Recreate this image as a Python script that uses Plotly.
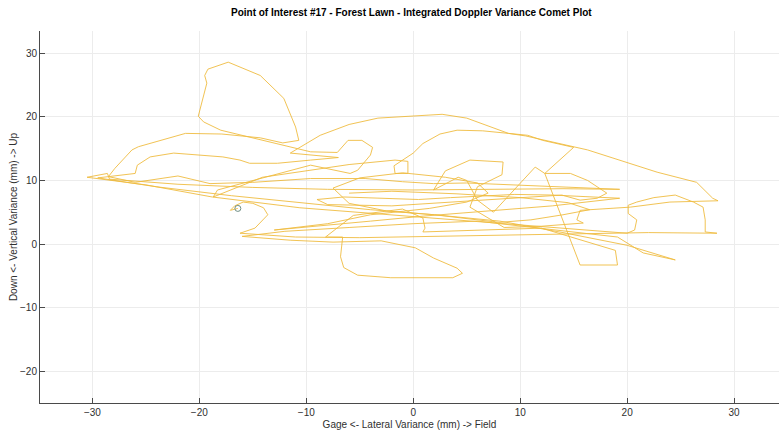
import plotly.graph_objects as go

# Integrated Doppler variance track (mm), in sampling order
lateral = [
    -16.4, -17.1, -16.7, -15.9, -15.0, -14.0, -13.6, -14.8, -16.2,
    -11.0, -5.0, 1.0, 8.0, 15.0, 22.0, 28.4,
    27.3, 27.3, 27.1, 26.2, 24.5, 22.5, 20.9, 20.1, 20.1, 20.9, 20.7, 20.0,
    14.0, 8.0, 2.0, -4.0, -10.6, -18.8, -25.0, -30.5,
    -28.6, -28.4, -22.0, -15.0, -8.0, 0.0, 8.0, 14.0, 19.3,
    15.0, 10.0, 5.0, 1.9, -1.0, -4.5, -9.6, -15.0, -19.0, -22.0, -26.0, -28.5,
    -27.9, -26.3, -25.7, -21.3, -17.9, -14.3, -12.2, -10.7,
    -11.0, -12.1, -14.3, -17.3, -19.2, -19.5, -19.3, -20.1, -19.6, -18.0, -14.3, -12.4, -9.6,
    -7.1, -6.1, -4.8, -3.8, -4.0, -5.2, -5.9, -8.0, -9.6, -18.3, -18.7,
    -14.1, -10.0, -6.0, -1.7, -0.5, -0.5, -1.7, -1.8, 0.0, 0.9, 2.5, 4.1, 6.5, 8.9, 10.5,
    16.3, 22.8, 26.5, 28.0, 28.5, 24.0, 20.3, 15.6, 15.3, 15.9, 12.0, 8.5, 5.3,
    6.0, 8.3, 8.4, 5.3, 3.0, 1.9, 4.2, 5.0, 6.0, 7.5, 11.4, 12.3,
    15.6, 19.1, 18.9, 12.0, 6.0, 0.9, 1.1, 0.9, -1.0, -5.6, -8.2,
    -6.6, -6.8, -6.5, -5.2, -2.1, 3.7, 4.6, 4.1, 1.9, 0.2, -3.0, -7.5, -11.5, -16.0,
    -12.0, -6.0, 0.0, 6.0, 12.0, 19.1, 21.5, 24.5,
    20.0, 14.0, 8.1, 2.0, -4.0, -10.0, -17.0, -24.0, -29.5,
    -26.0, -25.8, -24.6, -22.4, -17.8, -16.2, -15.3, -12.7, -9.6, -7.0,
    -11.5, -8.7, -6.0, -3.3, 2.7, 5.0, 8.9, 10.7, 12.1, 15.0,
    12.3, 14.7, 16.3, 18.1, 17.2, 15.6, 13.9, 10.0, 4.0, -2.0, -8.0,
    -9.0, -6.5, -3.0, 0.5, 3.5, 6.5, 9.5, 13.0, 19.3,
    13.0, 7.0, 1.0, -4.0, -9.0, -13.0,
    -8.0, -4.0, 1.5, 5.0, 7.0, 6.0, 3.0, -1.0, -5.0, -7.5, -6.0, -2.5, 2.0, 5.5,
    8.0, 11.0, 14.0, 16.5, 14.5, 10.0, 4.0, -2.0, -6.0,
]
vertical = [
    5.6, 5.3, 6.0, 6.6, 6.4, 5.7, 4.6, 2.5, 1.7,
    1.1, 1.0, 1.2, 1.4, 1.6, 1.8, 1.7,
    1.9, 3.8, 5.8, 6.6, 7.7, 7.3, 6.6, 6.1, 4.8, 3.8, 2.2, 1.7,
    2.5, 3.2, 4.0, 4.8, 5.7, 7.4, 9.3, 10.5,
    11.1, 10.2, 9.4, 8.9, 8.6, 8.5, 8.6, 8.7, 8.6,
    8.9, 9.3, 9.6, 9.5, 9.8, 10.3, 10.3, 9.7, 9.5, 10.7, 9.7, 10.6,
    11.9, 14.8, 15.3, 17.4, 17.3, 16.7, 15.9, 16.3,
    18.4, 22.9, 26.5, 28.6, 27.5, 26.5, 25.3, 20.1, 19.2, 17.9, 16.4, 15.6, 14.5,
    14.4, 16.3, 16.3, 15.2, 14.0, 11.6, 11.1, 11.8, 12.4, 8.5, 7.4,
    10.5, 11.5, 12.5, 13.2, 13.0, 11.1, 11.1, 12.3, 14.3, 15.8, 17.3, 17.9, 17.8, 17.4, 17.0,
    14.8, 11.3, 9.7, 7.2, 6.8, 6.6, 5.8, 5.3, 3.8, 3.3, 2.8, 2.6, 5.8,
    9.0, 10.9, 12.9, 13.2, 11.5, 8.5, 10.5, 10.0, 6.9, 5.0, 12.1, 11.1,
    -3.3, -3.3, -1.0, 2.5, 2.2, 1.9, 2.5, 4.1, 5.5, 4.5, 1.1,
    1.1, -2.0, -3.7, -4.9, -5.3, -5.3, -4.6, -3.8, -2.2, -0.6, 0.5, 0.3, 0.6, 1.2,
    2.0, 2.6, 3.2, 3.6, 2.5, 1.1, -1.4, -2.5,
    -0.2, 1.8, 3.6, 4.6, 5.4, 6.4, 7.6, 9.0, 10.4,
    11.1, 12.4, 13.7, 14.3, 13.7, 13.2, 12.7, 12.7, 13.2, 13.6,
    14.3, 17.1, 18.8, 19.8, 20.4, 19.8, 17.4, 17.1, 16.3, 15.2,
    11.1, 11.1, 10.0, 8.0, 7.2, 6.9, 7.7, 7.3, 6.6, 6.0, 6.2,
    7.0, 7.4, 7.2, 7.0, 7.3, 7.6, 7.8, 7.7, 7.2,
    6.0, 5.2, 4.4, 3.6, 2.8, 2.2,
    3.2, 4.6, 5.6, 6.6, 8.0, 9.6, 10.5, 11.2, 10.4, 8.8, 6.4, 5.2, 4.6, 3.9,
    3.4, 3.8, 4.6, 5.4, 6.5, 7.3, 7.9, 8.3, 8.0,
]

x_ticks = [-30, -20, -10, 0, 10, 20, 30]
y_ticks = [-20, -10, 0, 10, 20, 30]

axis_font = dict(family="Liberation Sans, Arial, sans-serif", size=10, color="#303030")

fig = go.Figure()
fig.add_trace(go.Scatter(
    x=lateral, y=vertical, mode="lines",
    line=dict(color="#EDB120", width=0.9),
    opacity=0.85,
    hoverinfo="skip", showlegend=False,
))
# comet head at the first sample
fig.add_trace(go.Scatter(
    x=lateral[:1], y=vertical[:1], mode="markers",
    marker=dict(symbol="circle-open", size=6, color="#6f8f86", line=dict(width=1)),
    hoverinfo="skip", showlegend=False,
))

fig.update_layout(
    width=779, height=430,
    margin=dict(l=40, r=0, t=31, b=27),
    paper_bgcolor="white", plot_bgcolor="white",
    title=dict(
        text="<b>Point of Interest #17 - Forest Lawn - Integrated Doppler Variance Comet Plot</b>",
        x=0.528, xanchor="center", y=0.97, yanchor="middle",
        font=dict(family="Liberation Sans, Arial, sans-serif", size=10, color="#000000"),
    ),
)
fig.update_xaxes(
    range=[-34.9, 34.2], tickvals=x_ticks, showgrid=True, gridcolor="#ececec", gridwidth=1,
    zeroline=False, showline=True, linecolor="#4a4a4a", linewidth=1,
    ticks="inside", ticklen=5, tickcolor="#4a4a4a", tickfont=axis_font,
    title=dict(text="Gage <- Lateral Variance (mm) -> Field", font=axis_font, standoff=3),
)
fig.update_yaxes(
    range=[-25, 33.5], tickvals=y_ticks, showgrid=True, gridcolor="#ececec", gridwidth=1,
    zeroline=False, showline=True, linecolor="#4a4a4a", linewidth=1,
    ticks="inside", ticklen=5, tickcolor="#4a4a4a", tickfont=axis_font,
    title=dict(text="Down <- Vertical Variance (mm) -> Up", font=axis_font, standoff=0),
)

fig.write_html("out.html")
